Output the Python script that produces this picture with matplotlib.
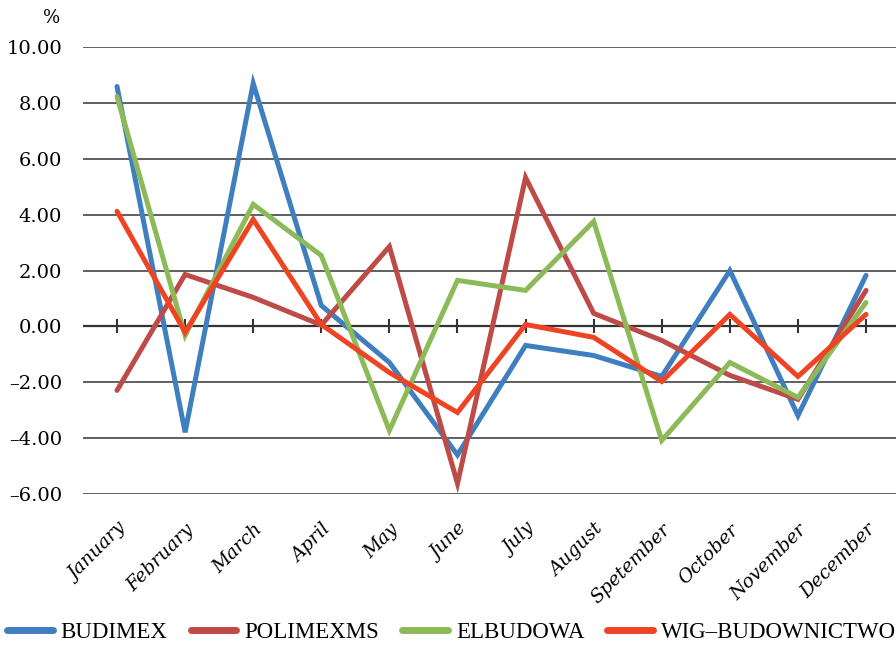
import matplotlib
matplotlib.use("Agg")
import matplotlib.pyplot as plt
from matplotlib.ticker import FuncFormatter

months = ["January", "February", "March", "April", "May", "June", "July",
          "August", "Spetember", "October", "November", "December"]
budimex = [8.59, -3.79, 8.70, 0.75, -1.29, -4.60, -0.68, -1.04, -1.79, 2.00, -3.19, 1.83]
polimex = [-2.29, 1.86, 1.04, 0.05, 2.86, -5.62, 5.33, 0.47, -0.50, -1.75, -2.61, 1.29]
elbudowa = [8.23, -0.32, 4.37, 2.54, -3.72, 1.65, 1.29, 3.76, -4.08, -1.29, -2.54, 0.86]
wig = [4.12, -0.21, 3.83, 0.07, -1.65, -3.08, 0.07, -0.39, -1.97, 0.43, -1.79, 0.43]
series_names = ["BUDIMEX", "POLIMEXMS", "ELBUDOWA", "WIG\u2013BUDOWNICTWO"]
y_ticks = [-6, -4, -2, 0, 2, 4, 6, 8, 10]

colors = ["#3F7FC0", "#BE4B48", "#8DBA58", "#EE4423"]

plt.rcParams['font.family'] = ['DejaVu Serif']

fig = plt.figure(figsize=(8.96, 6.45), dpi=100)
ax = fig.add_axes([0.0926, 0.234, 0.9074, 0.693])

x = list(range(len(months)))
for vals, name, c in zip([budimex, polimex, elbudowa, wig], series_names, colors):
    ax.plot(x, vals, color=c, lw=3.6, label=name, solid_capstyle='round',
            solid_joinstyle='miter', zorder=3)

ax.set_ylim(-6, 10)
ax.set_xlim(-0.5, 11.44)
ax.set_yticks(y_ticks)
ax.yaxis.set_major_formatter(FuncFormatter(lambda v, p: ("%.2f" % v).replace("-", "\u2013")))
ax.grid(axis='y', color='#444444', lw=1.2, zorder=1)
ax.tick_params(axis='y', length=0, pad=15, labelsize=14)
for s in ax.spines.values():
    s.set_visible(False)

ax.set_xticks(x)
ax.set_xticklabels(months, rotation=45, ha='right', va='top', rotation_mode='anchor',
                   fontstyle='italic', fontsize=13.5)
ax.tick_params(axis='x', length=0, pad=19)
ax.axhline(0, color='#333333', lw=1.6, zorder=2)
ax.scatter(x, [0] * len(x), marker='|', s=110, color='#333333', linewidths=1.5, zorder=2)

fig.text(0.058, 0.972, "%", fontsize=13, ha='center', va='center')

leg = fig.legend(loc='lower left', bbox_to_anchor=(0.0, -0.008), ncol=4, frameon=False,
                 prop={'family': 'Liberation Serif', 'size': 16.5},
                 handlelength=2.0, handletextpad=0.35, columnspacing=1.0,
                 borderaxespad=0.1, borderpad=0.2)
for h in leg.get_lines():
    h.set_linewidth(5)

fig.savefig("out.png", dpi=100)
